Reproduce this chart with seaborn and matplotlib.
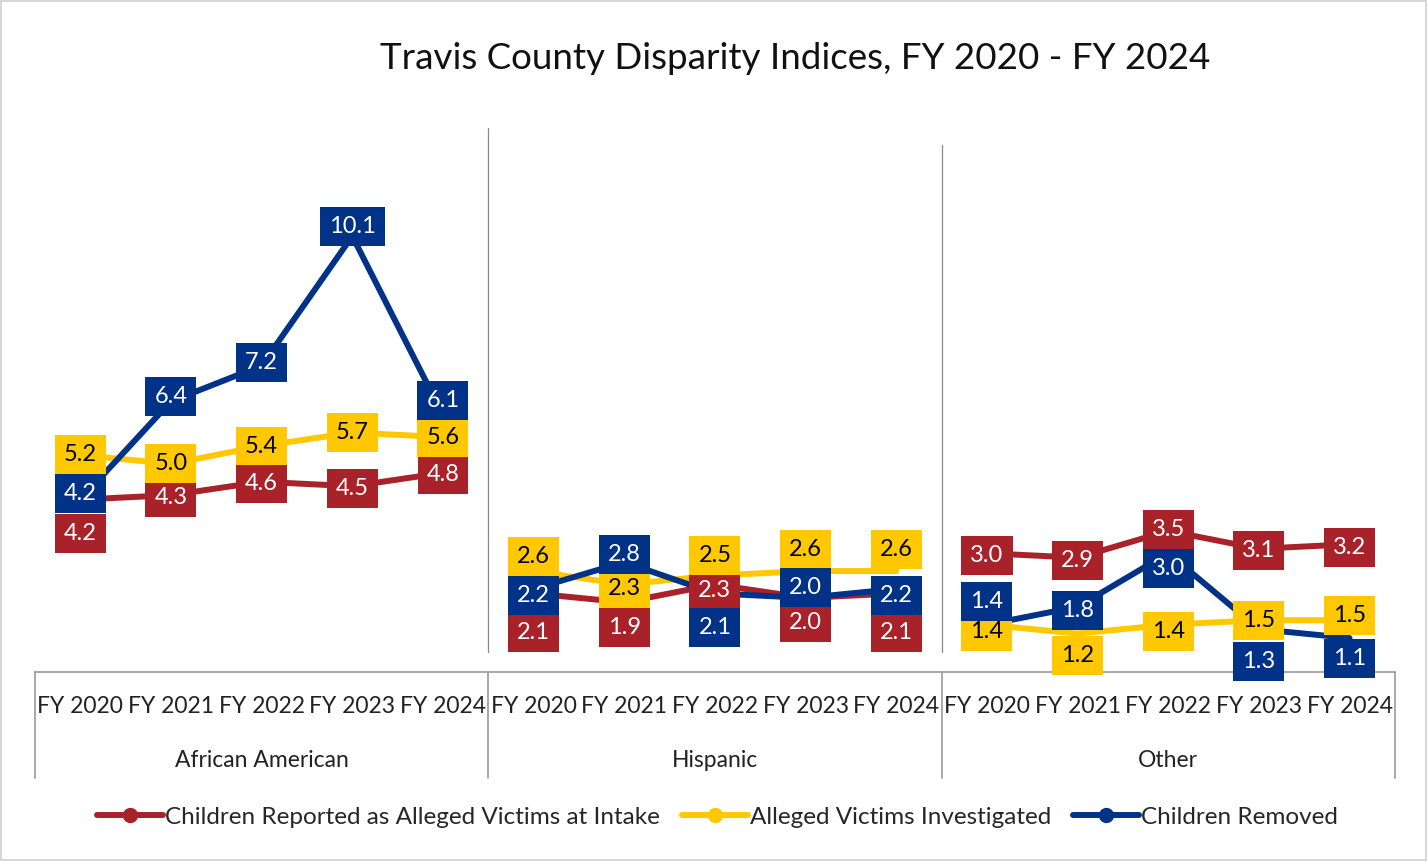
import pandas as pd
import matplotlib.pyplot as plt
import seaborn as sns
from matplotlib.lines import Line2D
from matplotlib.patches import Rectangle

# data
years = ['FY 2020', 'FY 2021', 'FY 2022', 'FY 2023', 'FY 2024']
groups = ['African American', 'Hispanic', 'Other']
series_names = ['Children Reported as Alleged Victims at Intake',
                'Alleged Victims Investigated',
                'Children Removed']
intake = [4.2, 4.3, 4.6, 4.5, 4.8, 2.1, 1.9, 2.3, 2.0, 2.1, 3.0, 2.9, 3.5, 3.1, 3.2]
investigated = [5.2, 5.0, 5.4, 5.7, 5.6, 2.6, 2.3, 2.5, 2.6, 2.6, 1.4, 1.2, 1.4, 1.5, 1.5]
removed = [4.2, 6.4, 7.2, 10.1, 6.1, 2.2, 2.8, 2.1, 2.0, 2.2, 1.4, 1.8, 3.0, 1.3, 1.1]

colors = ['#AA2229', '#FFC800', '#003388']
text_colors = ['white', 'black', 'white']

# vertical nudges of the data labels (pixels, + = down), as placed in the original
label_nudge = [
    [34, 2, 2, 2, 2, 39, 25, 6, 25, 39, 2, 3, -1, 2, 3],
    [0, 0, 0, 0, 0, -15, 4, -20, -22, -22, 7, 22, 7, 0, -5],
    [-6, -5, -3, -10, -14, 7, -8, 34, -10, 7, -23, 4, 15, 32, 20],
]

rows = []
for name, vals in zip(series_names, [intake, investigated, removed]):
    for i, v in enumerate(vals):
        rows.append({'series': name, 'group': groups[i // 5], 'pos': i, 'value': v})
df = pd.DataFrame(rows)

sns.set_theme(style='white')
plt.rcParams['font.family'] = ['Lato', 'DejaVu Sans']

fig = plt.figure(figsize=(14.27, 8.61), dpi=100)
ax = fig.add_axes([0.0245, 0.2195, 0.953, 0.6318])

sns.lineplot(data=df, x='pos', y='value', hue='series', units='group',
             estimator=None, sort=False, palette=colors, hue_order=series_names,
             linewidth=4.3, legend=False, ax=ax)

for k, (name, vals) in enumerate(zip(series_names, [intake, investigated, removed])):
    for i, v in enumerate(vals):
        ax.annotate(f'{v:.1f}', (i, v), xytext=(0, -label_nudge[k][i]),
                    textcoords='offset pixels', ha='center', va='center',
                    fontsize=17, color=text_colors[k], zorder=10 + k,
                    bbox=dict(boxstyle='square,pad=0.38', fc=colors[k], ec='none'))

ax.set_xlim(-0.5, 14.5)
ax.set_ylim(0.34, 12.52)
ax.set_yticks([])
ax.set_xticks(range(15))
ax.set_xticklabels(years * 3, fontsize=16.5, color='#222222')
ax.tick_params(axis='x', length=0, pad=17)
ax.set_xlabel('')
ax.set_ylabel('')
for s in ['top', 'left', 'right']:
    ax.spines[s].set_visible(False)
ax.spines['bottom'].set_color('#999999')
ax.spines['bottom'].set_linewidth(1.2)

# category axis box and group labels
trans = ax.get_xaxis_transform()
for xb in [-0.5, 4.5, 9.5, 14.5]:
    ax.plot([xb, xb], [0, -0.195], transform=trans, color='#999999', lw=1.2, clip_on=False)
for g, name in enumerate(groups):
    ax.text(g * 5 + 2, -0.163, name, transform=trans, ha='center', va='center',
            fontsize=16.5, color='#222222')

# group separators inside the plot area
ax.plot([4.5, 4.5], [0.037, 1.0], transform=trans, color='#888888', lw=0.9, clip_on=False)
ax.plot([9.5, 9.5], [0.037, 0.969], transform=trans, color='#888888', lw=0.9, clip_on=False)

fig.text(0.557, 0.932, 'Travis County Disparity Indices, FY 2020 - FY 2024',
         ha='center', va='center', fontsize=26.5, color='#111111')

handles = [Line2D([], [], color=c, lw=4.3, marker='o', markersize=10) for c in colors]
fig.legend(handles, series_names, loc='center', bbox_to_anchor=(0.503, 0.051),
           ncol=3, frameon=False, fontsize=17.5, handlelength=2.7,
           handletextpad=0.1, columnspacing=0.9)

fig.patches.append(Rectangle((0.001, 0.001), 0.998, 0.998, transform=fig.transFigure,
                             fill=False, ec='#d0d0d0', lw=1.2))

fig.savefig('out.png', dpi=100)
